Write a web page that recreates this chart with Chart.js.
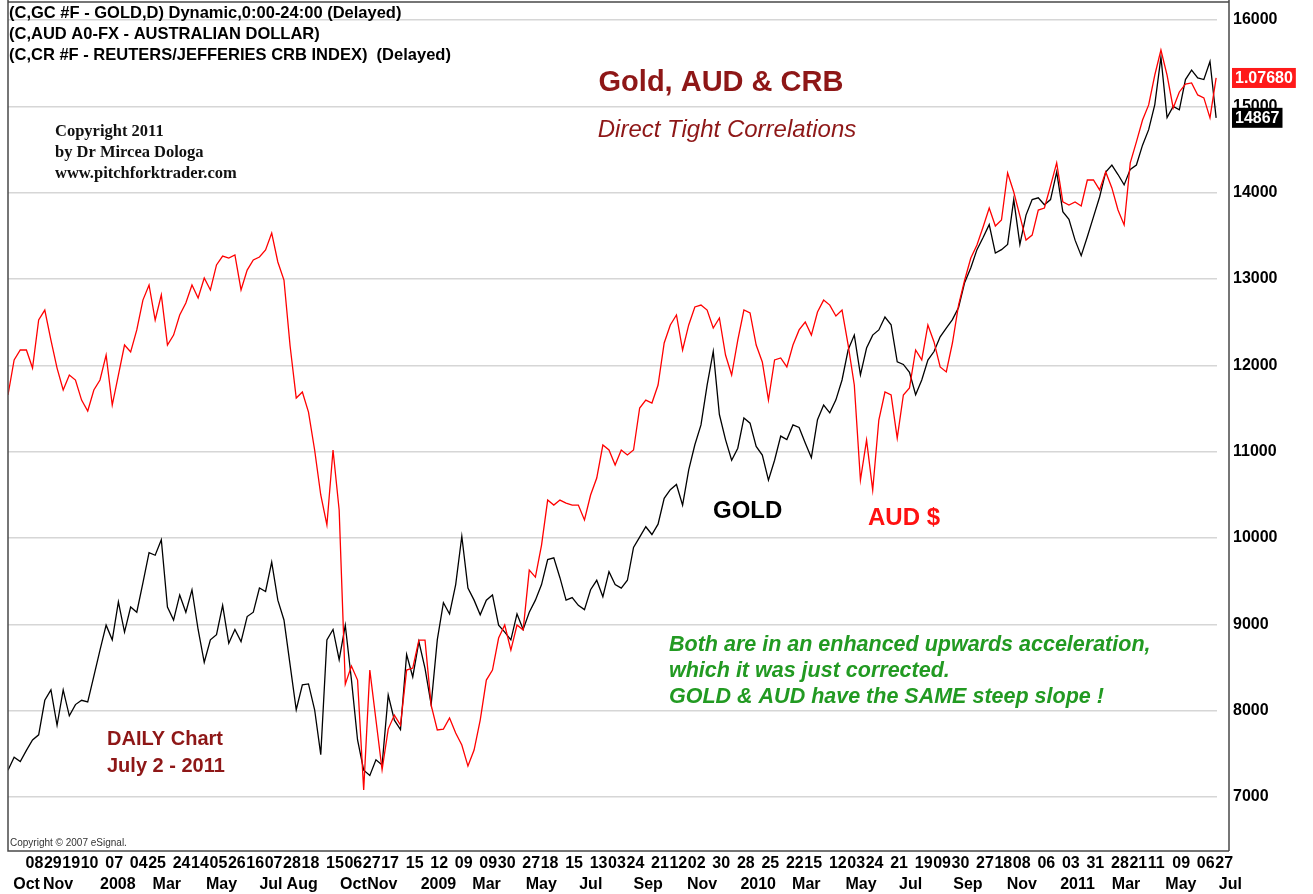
<!DOCTYPE html>
<html>
<head>
<meta charset="utf-8">
<title>Gold, AUD &amp; CRB</title>
<script src="https://cdn.jsdelivr.net/npm/chart.js@4.4.0/dist/chart.umd.min.js"></script>
<style>
  html, body { margin: 0; padding: 0; background: #fff; }
  #wrap { width: 1313px; height: 894px; }
</style>
</head>
<body>
<div id="wrap"><canvas id="chart" width="1313" height="894"></canvas></div>
<script>
(function () {
  'use strict';

  // weekly closes, first one on the start date below
  var SERIES_START = '2007-09-18';
  var STEP_DAYS = 7;

  // gold, quoted in tenths of a dollar (eSignal GC)
  var goldValues = [
    7310, 7460, 7410, 7540, 7660, 7720, 8120, 8240, 7830, 8240,
    7940, 8070, 8120, 8100, 8400, 8700, 8990, 8820, 9260, 8910,
    9200, 9140, 9480, 9830, 9800, 9980, 9200, 9050, 9340, 9140,
    9400, 8940, 8560, 8820, 8880, 9220, 8780, 8940, 8800, 9090,
    9140, 9420, 9380, 9720, 9280, 9050, 8530, 8010, 8300, 8310,
    8010, 7490, 8820, 8940, 8590, 8990, 8360, 7660, 7310, 7250,
    7430, 7370, 8180, 7890, 7780, 8650, 8390, 8800, 8490, 8070,
    8820, 9250, 9120, 9460, 10020, 9420, 9280, 9110, 9280, 9340,
    8990, 8910, 8820, 9120, 8940, 9140, 9280, 9460, 9750, 9770,
    9540, 9280, 9310, 9220, 9170, 9400, 9510, 9320, 9610, 9460,
    9420, 9510, 9890, 10010, 10130, 10040, 10160, 10460, 10560, 10620,
    10380, 10790, 11080, 11310, 11770, 12160, 11430, 11140, 10900, 11040,
    11390, 11330, 11060, 10960, 10670, 10900, 11180, 11140, 11310, 11280,
    11100, 10930, 11370, 11540, 11450, 11600, 11830, 12180, 12350, 11890,
    12200, 12350, 12410, 12560, 12470, 12040, 12010, 11920, 11660, 11830,
    12060, 12160, 12330, 12430, 12530, 12670, 12960, 13130, 13340, 13480,
    13630, 13300, 13340, 13400, 13920, 13400, 13740, 13920, 13940, 13860,
    13920, 14240, 13780, 13690, 13450, 13270, 13490, 13720, 13950, 14240,
    14320, 14210, 14090, 14270, 14320, 14550, 14730, 15020, 15570, 14870,
    15000, 14960, 15310, 15420, 15330, 15310, 15520, 14867
  ];

  // AUD/USD
  var audValues = [
    0.8730, 0.8955, 0.9019, 0.9019, 0.8903, 0.9212, 0.9276, 0.9083, 0.8903, 0.8762,
    0.8858, 0.8826, 0.8697, 0.8627, 0.8762, 0.8826, 0.8987, 0.8665, 0.8858, 0.9051,
    0.9006, 0.9148, 0.9340, 0.9437, 0.9212, 0.9373, 0.9051, 0.9115, 0.9244, 0.9321,
    0.9437, 0.9353, 0.9482, 0.9405, 0.9566, 0.9623, 0.9610, 0.9630, 0.9405, 0.9533,
    0.9598, 0.9617, 0.9662, 0.9771, 0.9585, 0.9469, 0.9045, 0.8710, 0.8749, 0.8620,
    0.8376, 0.8087, 0.7894, 0.8376, 0.7990, 0.6871, 0.6987, 0.6897, 0.6190, 0.6961,
    0.6640, 0.6320, 0.6582, 0.6672, 0.6608, 0.6961, 0.6974, 0.7154, 0.7154, 0.6736,
    0.6576, 0.6582, 0.6653, 0.6556, 0.6479, 0.6344, 0.6447, 0.6640, 0.6897, 0.6961,
    0.7167, 0.7251, 0.7090, 0.7251, 0.7219, 0.7604, 0.7559, 0.7765, 0.8054, 0.8022,
    0.8054, 0.8035, 0.8022, 0.8022, 0.7926, 0.8087, 0.8196, 0.8408, 0.8376, 0.8280,
    0.8376, 0.8344, 0.8376, 0.8646, 0.8697, 0.8678, 0.8794, 0.9064, 0.9180, 0.9244,
    0.9019, 0.9180, 0.9296, 0.9308, 0.9276, 0.9160, 0.9225, 0.8987, 0.8858, 0.9083,
    0.9276, 0.9257, 0.9051, 0.8942, 0.8697, 0.8955, 0.8968, 0.8910, 0.9051, 0.9148,
    0.9199, 0.9115, 0.9263, 0.9340, 0.9308, 0.9238, 0.9276, 0.9051, 0.8794, 0.8183,
    0.8440, 0.8119, 0.8569, 0.8749, 0.8730, 0.8453, 0.8730, 0.8775, 0.9019, 0.8955,
    0.9180, 0.9071, 0.8910, 0.8878, 0.9064, 0.9308, 0.9469, 0.9610, 0.9694, 0.9810,
    0.9932, 0.9816, 0.9855, 1.0157, 1.0035, 0.9881, 0.9726, 0.9758, 0.9919, 0.9932,
    1.0074, 1.0222, 0.9971, 0.9951, 0.9971, 0.9945, 1.0112, 1.0112, 1.0048, 1.0164,
    1.0061, 0.9919, 0.9823, 1.0222, 1.0357, 1.0498, 1.0595, 1.0787, 1.0948, 1.0787,
    1.0575, 1.0678, 1.0729, 1.0736, 1.0659, 1.0640, 1.0511, 1.0768
  ];

  var priceTicks = [7000, 8000, 9000, 10000, 11000, 12000, 13000, 14000, 15000, 16000];

  // first row of the time axis: Mondays
  var dayTickDates = [
    '2007-10-08', '2007-10-29', '2007-11-19', '2007-12-10', '2008-01-07', '2008-02-04',
    '2008-02-25', '2008-03-24', '2008-04-14', '2008-05-05', '2008-05-26', '2008-06-16',
    '2008-07-07', '2008-07-28', '2008-08-18', '2008-09-15', '2008-10-06', '2008-10-27',
    '2008-11-17', '2008-12-15', '2009-01-12', '2009-02-09', '2009-03-09', '2009-03-30',
    '2009-04-27', '2009-05-18', '2009-06-15', '2009-07-13', '2009-08-03', '2009-08-24',
    '2009-09-21', '2009-10-12', '2009-11-02', '2009-11-30', '2009-12-28', '2010-01-25',
    '2010-02-22', '2010-03-15', '2010-04-12', '2010-05-03', '2010-05-24', '2010-06-21',
    '2010-07-19', '2010-08-09', '2010-08-30', '2010-09-27', '2010-10-18', '2010-11-08',
    '2010-12-06', '2011-01-03', '2011-01-31', '2011-02-28', '2011-03-21', '2011-04-11',
    '2011-05-09', '2011-06-06', '2011-06-27'
  ];

  // second row: months / years
  var monthTickDates = [
    '2007-09-24', '2007-10-28', '2008-01-01', '2008-03-01', '2008-05-01', '2008-07-01',
    '2008-08-01', '2008-10-01', '2008-11-01', '2009-01-01', '2009-03-01', '2009-05-01',
    '2009-07-01', '2009-09-01', '2009-11-01', '2010-01-01', '2010-03-01', '2010-05-01',
    '2010-07-01', '2010-09-01', '2010-11-01', '2011-01-01', '2011-03-01', '2011-05-01',
    '2011-07-01'
  ];
  var monthTickNames = [
    'Oct', 'Nov', '2008', 'Mar', 'May', 'Jul', 'Aug', 'Oct', 'Nov', '2009', 'Mar', 'May',
    'Jul', 'Sep', 'Nov', '2010', 'Mar', 'May', 'Jul', 'Sep', 'Nov', '2011', 'Mar', 'May', 'Jul'
  ];

  var SANS = 'Arial, "Liberation Sans", sans-serif';
  var SERIF = '"Times New Roman", "Liberation Serif", serif';
  var DARK_RED = '#8e1717';

  // days counted from Mon 8 Oct 2007
  function dayNum(s) {
    var p = s.split('-');
    return (Date.UTC(+p[0], +p[1] - 1, +p[2]) - Date.UTC(2007, 9, 8)) / 86400000;
  }

  var firstDay = dayNum(SERIES_START);

  function toPoints(values) {
    return values.map(function (v, i) {
      return { x: firstDay + i * STEP_DAYS, y: v };
    });
  }

  // --- frame, texts and last-value boxes ---
  var decorations = {
    id: 'decorations',
    afterDraw: function (chart) {
      var ctx = chart.ctx;
      var area = chart.chartArea;
      ctx.save();

      // frame
      ctx.strokeStyle = '#4a4a4a';
      ctx.lineWidth = 1.5;
      ctx.beginPath();
      ctx.moveTo(area.left, 0);
      ctx.lineTo(area.left, area.bottom);
      ctx.lineTo(area.right + 12, area.bottom);
      ctx.moveTo(area.right + 12, 0);
      ctx.lineTo(area.right + 12, area.bottom);
      ctx.moveTo(area.left, 2);
      ctx.lineTo(area.right + 12, 2);
      ctx.stroke();

      // header lines
      ctx.fillStyle = '#000';
      ctx.textAlign = 'left';
      ctx.textBaseline = 'middle';
      ctx.font = 'bold 16.5px ' + SANS;
      ctx.fillText('(C,GC #F - GOLD,D) Dynamic,0:00-24:00 (Delayed)', 9, 13);
      ctx.fillText('(C,AUD A0-FX - AUSTRALIAN DOLLAR)', 9, 34);
      ctx.fillText('(C,CR #F - REUTERS/JEFFERIES CRB INDEX)  (Delayed)', 9, 55);

      // titles
      ctx.textAlign = 'center';
      ctx.fillStyle = DARK_RED;
      ctx.font = 'bold 29px ' + SANS;
      ctx.fillText('Gold, AUD & CRB', 721, 83);
      ctx.font = 'italic 24px ' + SANS;
      ctx.fillText('Direct Tight Correlations', 727, 130);

      // copyright block
      ctx.textAlign = 'left';
      ctx.fillStyle = '#111';
      ctx.font = 'bold 16.5px ' + SERIF;
      ctx.fillText('Copyright 2011', 55, 132);
      ctx.fillText('by Dr Mircea Dologa', 55, 153);
      ctx.fillText('www.pitchforktrader.com', 55, 174);

      // series names
      ctx.font = 'bold 24px ' + SANS;
      ctx.fillStyle = '#000';
      ctx.fillText('GOLD', 713, 511);
      ctx.fillStyle = '#ff1111';
      ctx.fillText('AUD $', 868, 518);

      ctx.fillStyle = DARK_RED;
      ctx.font = 'bold 20px ' + SANS;
      ctx.fillText('DAILY Chart', 107, 739);
      ctx.fillText('July 2 - 2011', 107, 766);

      ctx.fillStyle = '#229a22';
      ctx.font = 'italic bold 21.5px ' + SANS;
      ctx.fillText('Both are in an enhanced upwards acceleration,', 669, 645);
      ctx.fillText('which it was just corrected.', 669, 671);
      ctx.fillText('GOLD & AUD have the SAME steep slope !', 669, 697);

      ctx.fillStyle = '#333';
      ctx.font = '10px ' + SANS;
      ctx.fillText('Copyright \u00A9 2007 eSignal.', 10, 843);

      // last value boxes on the price axis
      var boxes = [
        { scale: chart.scales.aud, value: audValues[audValues.length - 1], digits: 5, bg: '#ff1a1a' },
        { scale: chart.scales.y, value: goldValues[goldValues.length - 1], digits: 0, bg: '#000' }
      ];
      ctx.font = 'bold 16px ' + SANS;
      boxes.forEach(function (b) {
        var text = b.value.toFixed(b.digits);
        var y = b.scale.getPixelForValue(b.value);
        var w = ctx.measureText(text).width + 6;
        var x = area.right + 15;
        ctx.fillStyle = b.bg;
        ctx.fillRect(x, y - 10, w, 20);
        ctx.fillStyle = '#fff';
        ctx.fillText(text, x + 3, y + 1);
      });

      ctx.restore();
    }
  };

  var axisFont = { family: SANS, size: 16, weight: 'bold' };

  new Chart(document.getElementById('chart'), {
    type: 'line',
    data: {
      datasets: [{
        label: 'AUD',
        data: toPoints(audValues),
        yAxisID: 'aud',
        borderColor: '#ff0000',
        borderWidth: 1.3,
        pointRadius: 0,
        tension: 0,
        order: 1
      }, {
        label: 'Gold',
        data: toPoints(goldValues),
        yAxisID: 'y',
        borderColor: '#000000',
        borderWidth: 1.3,
        pointRadius: 0,
        tension: 0,
        order: 2
      }]
    },
    options: {
      responsive: false,
      animation: false,
      devicePixelRatio: 1,
      layout: { padding: { left: 8, top: 3, right: 0, bottom: 0 } },
      plugins: {
        legend: { display: false },
        tooltip: { enabled: false }
      },
      scales: {
        x: {
          type: 'linear',
          position: 'bottom',
          weight: 0,
          min: -20,
          max: 1360,
          grid: { display: false, drawTicks: false },
          border: { display: false },
          afterBuildTicks: function (scale) {
            scale.ticks = dayTickDates.map(function (d) { return { value: dayNum(d) }; });
          },
          afterFit: function (scale) { scale.height = 22; },
          ticks: {
            autoSkip: false,
            maxRotation: 0,
            minRotation: 0,
            align: 'start',
            padding: 3,
            color: '#000',
            font: axisFont,
            callback: function (v, i) { return dayTickDates[i].slice(8); }
          }
        },
        months: {
          type: 'linear',
          axis: 'x',
          position: 'bottom',
          weight: 1,
          min: -20,
          max: 1360,
          grid: { display: false, drawTicks: false },
          border: { display: false },
          afterBuildTicks: function (scale) {
            scale.ticks = monthTickDates.map(function (d) { return { value: dayNum(d) }; });
          },
          afterFit: function (scale) { scale.height = 21; },
          ticks: {
            autoSkip: false,
            maxRotation: 0,
            minRotation: 0,
            align: 'start',
            padding: 2,
            color: '#000',
            font: axisFont,
            callback: function (v, i) { return monthTickNames[i]; }
          }
        },
        y: {
          type: 'linear',
          position: 'right',
          min: 6374,
          max: 16197,
          afterBuildTicks: function (scale) {
            scale.ticks = priceTicks.map(function (v) { return { value: v }; });
          },
          afterFit: function (scale) { scale.width = 96; },
          // tick marks only used to push the labels right of the plot
          grid: { color: '#d6d6d6', lineWidth: 1.5, drawTicks: true, tickLength: 16, tickColor: 'rgba(0,0,0,0)' },
          border: { display: false },
          ticks: {
            padding: 0,
            color: '#000',
            font: { family: SANS, size: 16, weight: 'bold', lineHeight: 0.25 },
            callback: function (v) { return String(v); }
          }
        },
        aud: {
          type: 'linear',
          position: 'right',
          display: false,
          min: 0.5798,
          max: 1.1250
        }
      }
    },
    plugins: [decorations]
  });
})();
</script>
</body>
</html>
